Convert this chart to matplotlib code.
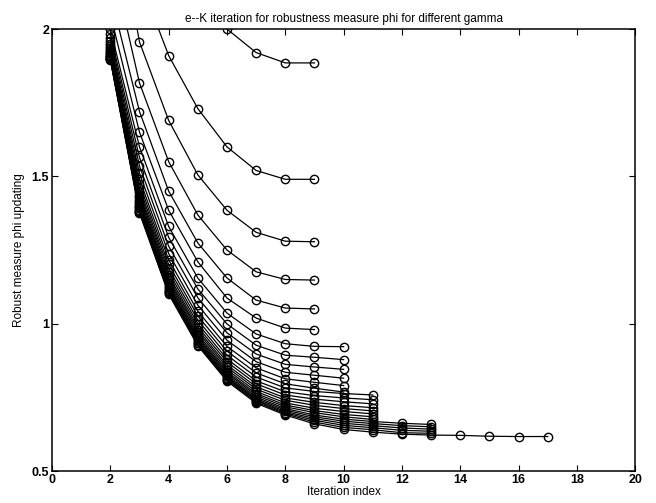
import matplotlib
matplotlib.use("Agg")
import matplotlib.pyplot as plt

plt.rcParams['font.family'] = ['Liberation Sans', 'DejaVu Sans']

# phi values per gamma, every curve starts at iteration 2
curves_end9 = [
    [3.40, 2.80, 2.40, 2.15, 2.00, 1.92, 1.885, 1.885],
    [2.80, 2.17, 1.91, 1.73, 1.60, 1.52, 1.49, 1.49],
    [2.50, 1.956, 1.69, 1.505, 1.385, 1.31, 1.28, 1.278],
    [2.25, 1.817, 1.55, 1.369, 1.25, 1.176, 1.150, 1.148],
    [2.12, 1.72, 1.45, 1.274, 1.155, 1.08, 1.053, 1.05],
    [2.05, 1.65, 1.385, 1.21, 1.087, 1.019, 0.985, 0.98],
]

curves_end10 = [
    [2.000, 1.600, 1.330, 1.155, 1.036, 0.965, 0.932, 0.923, 0.922],
    [1.983, 1.564, 1.293, 1.118, 0.999, 0.927, 0.893, 0.886, 0.878],
    [1.970, 1.535, 1.263, 1.088, 0.969, 0.897, 0.862, 0.853, 0.845],
    [1.958, 1.510, 1.238, 1.063, 0.944, 0.871, 0.835, 0.825, 0.815],
    [1.949, 1.490, 1.217, 1.042, 0.923, 0.850, 0.813, 0.801, 0.790],
    [1.941, 1.474, 1.201, 1.026, 0.907, 0.833, 0.796, 0.781, 0.768],
]

curves_end11 = [
    [1.935, 1.460, 1.187, 1.012, 0.893, 0.819, 0.782, 0.770, 0.763, 0.758],
    [1.929, 1.448, 1.175, 1.000, 0.880, 0.806, 0.769, 0.756, 0.748, 0.742],
    [1.924, 1.438, 1.164, 0.989, 0.870, 0.796, 0.758, 0.744, 0.735, 0.728],
    [1.920, 1.429, 1.155, 0.980, 0.860, 0.786, 0.748, 0.733, 0.722, 0.715],
    [1.917, 1.421, 1.147, 0.972, 0.852, 0.778, 0.740, 0.723, 0.712, 0.704],
    [1.913, 1.413, 1.139, 0.964, 0.844, 0.770, 0.731, 0.713, 0.702, 0.694],
    [1.910, 1.406, 1.132, 0.957, 0.837, 0.763, 0.724, 0.705, 0.692, 0.684],
    [1.907, 1.401, 1.126, 0.951, 0.832, 0.757, 0.718, 0.698, 0.684, 0.675],
]

curves_end13 = [
    [1.904, 1.395, 1.121, 0.946, 0.826, 0.751, 0.712, 0.690, 0.676, 0.668, 0.662, 0.658],
    [1.902, 1.391, 1.116, 0.941, 0.821, 0.746, 0.707, 0.684, 0.669, 0.661, 0.654, 0.650],
    [1.900, 1.386, 1.111, 0.936, 0.817, 0.742, 0.702, 0.678, 0.662, 0.654, 0.646, 0.642],
    [1.898, 1.382, 1.108, 0.933, 0.813, 0.738, 0.698, 0.672, 0.655, 0.647, 0.638, 0.635],
    [1.897, 1.379, 1.104, 0.929, 0.809, 0.734, 0.694, 0.666, 0.648, 0.640, 0.630, 0.628],
]

curve_end17 = [1.895, 1.375, 1.100, 0.925, 0.805, 0.730, 0.690, 0.660, 0.641,
               0.632, 0.625, 0.622, 0.621, 0.618, 0.617, 0.617]

all_curves = curves_end9 + curves_end10 + curves_end11 + curves_end13 + [curve_end17]

fig = plt.figure(figsize=(6.56, 5.03), dpi=100)
ax = fig.add_axes([0.0793, 0.0636, 0.889, 0.8787])

for phi in all_curves:
    it = list(range(2, 2 + len(phi)))
    ax.plot(it, phi, color='black', linewidth=0.9, marker='o', markersize=6,
            markerfacecolor='none', markeredgecolor='black', markeredgewidth=1.0)

ax.set_xlim(0, 20)
ax.set_ylim(0.5, 2)
ax.set_xticks(range(0, 21, 2))
ax.set_yticks([0.5, 1, 1.5, 2])
ax.set_yticklabels(['0.5', '1', '1.5', '2'])
ax.tick_params(direction='in', top=True, right=True, length=4, width=0.8,
               labelsize=9, pad=2)
for lab in ax.get_xticklabels() + ax.get_yticklabels():
    lab.set_fontweight('bold')
for s in ax.spines.values():
    s.set_linewidth(1.1)

ax.set_title('e--K iteration for robustness measure phi for different gamma',
             fontsize=8.5, pad=5)
ax.set_xlabel('Iteration index', fontsize=8.5, labelpad=0)
ax.set_ylabel('Robust measure phi updating', fontsize=8.5, labelpad=5)

fig.savefig('out.png', dpi=100)
